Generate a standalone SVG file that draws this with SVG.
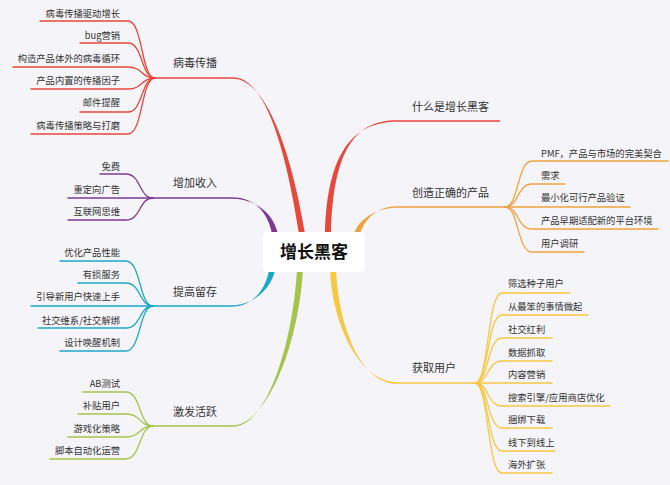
<svg xmlns="http://www.w3.org/2000/svg" width="670" height="485" viewBox="0 0 670 485">
<style>
text{font-family:"Noto Sans CJK SC","Noto Sans",sans-serif;fill:#333}
.leaf{font-size:9.3px}
.lr{text-anchor:end}
.br{font-size:11px}
.ln{fill:none;stroke-width:1.3;stroke-linecap:round}
.ul{fill:none;stroke-width:1.6}
.red{stroke:#e8473c}.pur{stroke:#7d3895}.cya{stroke:#1ba7c8}.grn{stroke:#a6c44c}.org{stroke:#f0a23e}.yel{stroke:#f6c843}
</style>
<rect width="670" height="485" fill="#f5f4f8"/>
<g id="connectors">
<path fill="#e8473c" d="M299 234 C285.5 147 265 77.2 233 77.2 L233 78.8 C265 78.8 290.5 147 305 234 Z"/>
<line class="ul red" x1="233" y1="78" x2="155" y2="78"/>
<path fill="#7d3895" d="M272 234 C267.5 210 252 197.2 232 197.2 L232 198.8 C252 198.8 272.5 210 278 234 Z"/>
<line class="ul pur" x1="232" y1="198" x2="153" y2="198"/>
<path fill="#1ba7c8" d="M269 270 C265.5 292 250 306.8 232 306.8 L232 305.2 C250 305.2 270.5 292 275 270 Z"/>
<line class="ul cya" x1="232" y1="306" x2="153" y2="306"/>
<path fill="#a6c44c" d="M297 270 C292 350 265 426.8 233 426.8 L233 425.2 C265 425.2 298 350 303 270 Z"/>
<line class="ul grn" x1="233" y1="426" x2="153" y2="426"/>
<path fill="#e8473c" d="M331 234 C333 150 355 120.2 397 120.2 L397 121.8 C355 121.8 327 150 325 234 Z"/>
<line class="ul red" x1="397" y1="121" x2="500" y2="121"/>
<path fill="#f0a23e" d="M360 234 C365 218 378 206.2 397 206.2 L397 207.8 C378 207.8 359 218 354 234 Z"/>
<line class="ul org" x1="397" y1="207" x2="505" y2="207"/>
<path fill="#f6c843" d="M336 270 C339 330 362 383.8 397 383.8 L397 382.2 C362 382.2 333 330 330 270 Z"/>
<line class="ul yel" x1="397" y1="383" x2="475" y2="383"/>
<g class="red">
<path class="ln" d="M155 78 C141 78 143 21 128 21 L40 21"/>
<path class="ln" d="M155 78 C141 78 143 43 128 43 L80 43"/>
<path class="ln" d="M155 78 C141 78 143 67 128 67 L13 67"/>
<path class="ln" d="M155 78 C141 78 143 89 128 89 L31 89"/>
<path class="ln" d="M155 78 C141 78 143 112 128 112 L80 112"/>
<path class="ln" d="M155 78 C141 78 143 134 128 134 L31 134"/>
</g>
<g class="pur">
<path class="ln" d="M153 198 C139 198 141 174 126 174 L100 174"/>
<path class="ln" d="M153 198 L68 198"/>
<path class="ln" d="M153 198 C139 198 141 220 126 220 L68 220"/>
</g>
<g class="cya">
<path class="ln" d="M153 306 C139 306 141 261 126 261 L60 261"/>
<path class="ln" d="M153 306 C139 306 141 283 126 283 L78 283"/>
<path class="ln" d="M153 306 L31 306"/>
<path class="ln" d="M153 306 C139 306 141 328 126 328 L38 328"/>
<path class="ln" d="M153 306 C139 306 141 351 126 351 L60 351"/>
</g>
<g class="grn">
<path class="ln" d="M153 426 C139 426 141 392 126 392 L83 392"/>
<path class="ln" d="M153 426 C139 426 141 414 126 414 L78 414"/>
<path class="ln" d="M153 426 C139 426 141 437 126 437 L68 437"/>
<path class="ln" d="M153 426 C139 426 141 459 126 459 L50 459"/>
</g>
<g class="org">
<path class="ln" d="M505 207 C519 207 517 161 532 161 L668 161"/>
<path class="ln" d="M505 207 C519 207 517 184 532 184 L565 184"/>
<path class="ln" d="M505 207 L630 207"/>
<path class="ln" d="M505 207 C519 207 517 229 532 229 L658 229"/>
<path class="ln" d="M505 207 C519 207 517 252 532 252 L584 252"/>
</g>
<g class="yel">
<path class="ln" d="M475 383 C489 383 487 293 502 293 L570 293"/>
<path class="ln" d="M475 383 C489 383 487 315 502 315 L588 315"/>
<path class="ln" d="M475 383 C489 383 487 338 502 338 L552 338"/>
<path class="ln" d="M475 383 C489 383 487 361 502 361 L552 361"/>
<path class="ln" d="M475 383 L552 383"/>
<path class="ln" d="M475 383 C489 383 487 406 502 406 L610 406"/>
<path class="ln" d="M475 383 C489 383 487 428 502 428 L552 428"/>
<path class="ln" d="M475 383 C489 383 487 451 502 451 L555 451"/>
<path class="ln" d="M475 383 C489 383 487 473 502 473 L552 473"/>
</g>
</g>
<g id="root">
<rect x="263" y="232" width="102" height="40" rx="4" fill="#ffffff"/>
<text x="314" y="258" font-size="17" font-weight="bold" text-anchor="middle" style="fill:#111">增长黑客</text>
</g>
<g id="b1"><text class="br" x="173" y="67">病毒传播</text></g>
<g id="b1-1"><text class="leaf lr" x="120" y="16.5">病毒传播驱动增长</text></g>
<g id="b1-2"><text class="leaf lr" x="120" y="38.5">bug营销</text></g>
<g id="b1-3"><text class="leaf lr" x="120" y="61.5">构造产品体外的病毒循环</text></g>
<g id="b1-4"><text class="leaf lr" x="120" y="83.5">产品内置的传播因子</text></g>
<g id="b1-5"><text class="leaf lr" x="120" y="106">邮件提醒</text></g>
<g id="b1-6"><text class="leaf lr" x="120" y="129">病毒传播策略与打磨</text></g>
<g id="b2"><text class="br" x="173" y="187">增加收入</text></g>
<g id="b2-1"><text class="leaf lr" x="120" y="169.5">免费</text></g>
<g id="b2-2"><text class="leaf lr" x="120" y="192.5">重定向广告</text></g>
<g id="b2-3"><text class="leaf lr" x="120" y="214.5">互联网思维</text></g>
<g id="b3"><text class="br" x="173" y="296">提高留存</text></g>
<g id="b3-1"><text class="leaf lr" x="120" y="255.5">优化产品性能</text></g>
<g id="b3-2"><text class="leaf lr" x="120" y="277.5">有损服务</text></g>
<g id="b3-3"><text class="leaf lr" x="120" y="299.5">引导新用户快速上手</text></g>
<g id="b3-4"><text class="leaf lr" x="120" y="323.5">社交维系/社交解绑</text></g>
<g id="b3-5"><text class="leaf lr" x="120" y="345.5">设计唤醒机制</text></g>
<g id="b4"><text class="br" x="173" y="416">激发活跃</text></g>
<g id="b4-1"><text class="leaf lr" x="120" y="386.5">AB测试</text></g>
<g id="b4-2"><text class="leaf lr" x="120" y="408.5">补贴用户</text></g>
<g id="b4-3"><text class="leaf lr" x="120" y="431.5">游戏化策略</text></g>
<g id="b4-4"><text class="leaf lr" x="120" y="453.5">脚本自动化运营</text></g>
<g id="b5"><text class="br" x="412" y="111">什么是增长黑客</text></g>
<g id="b6"><text class="br" x="412" y="197">创造正确的产品</text></g>
<g id="b6-1"><text class="leaf" x="541" y="156.5">PMF，产品与市场的完美契合</text></g>
<g id="b6-2"><text class="leaf" x="541" y="178.5">需求</text></g>
<g id="b6-3"><text class="leaf" x="541" y="200.5">最小化可行产品验证</text></g>
<g id="b6-4"><text class="leaf" x="541" y="223.5">产品早期适配新的平台环境</text></g>
<g id="b6-5"><text class="leaf" x="541" y="246.5">用户调研</text></g>
<g id="b7"><text class="br" x="412" y="372">获取用户</text></g>
<g id="b7-1"><text class="leaf" x="508" y="286.5">筛选种子用户</text></g>
<g id="b7-2"><text class="leaf" x="508" y="309.5">从最笨的事情做起</text></g>
<g id="b7-3"><text class="leaf" x="508" y="332.5">社交红利</text></g>
<g id="b7-4"><text class="leaf" x="508" y="355.5">数据抓取</text></g>
<g id="b7-5"><text class="leaf" x="508" y="377.5">内容营销</text></g>
<g id="b7-6"><text class="leaf" x="508" y="400.5">搜索引擎/应用商店优化</text></g>
<g id="b7-7"><text class="leaf" x="508" y="422.5">捆绑下载</text></g>
<g id="b7-8"><text class="leaf" x="508" y="445.5">线下到线上</text></g>
<g id="b7-9"><text class="leaf" x="508" y="467.5">海外扩张</text></g>
</svg>
